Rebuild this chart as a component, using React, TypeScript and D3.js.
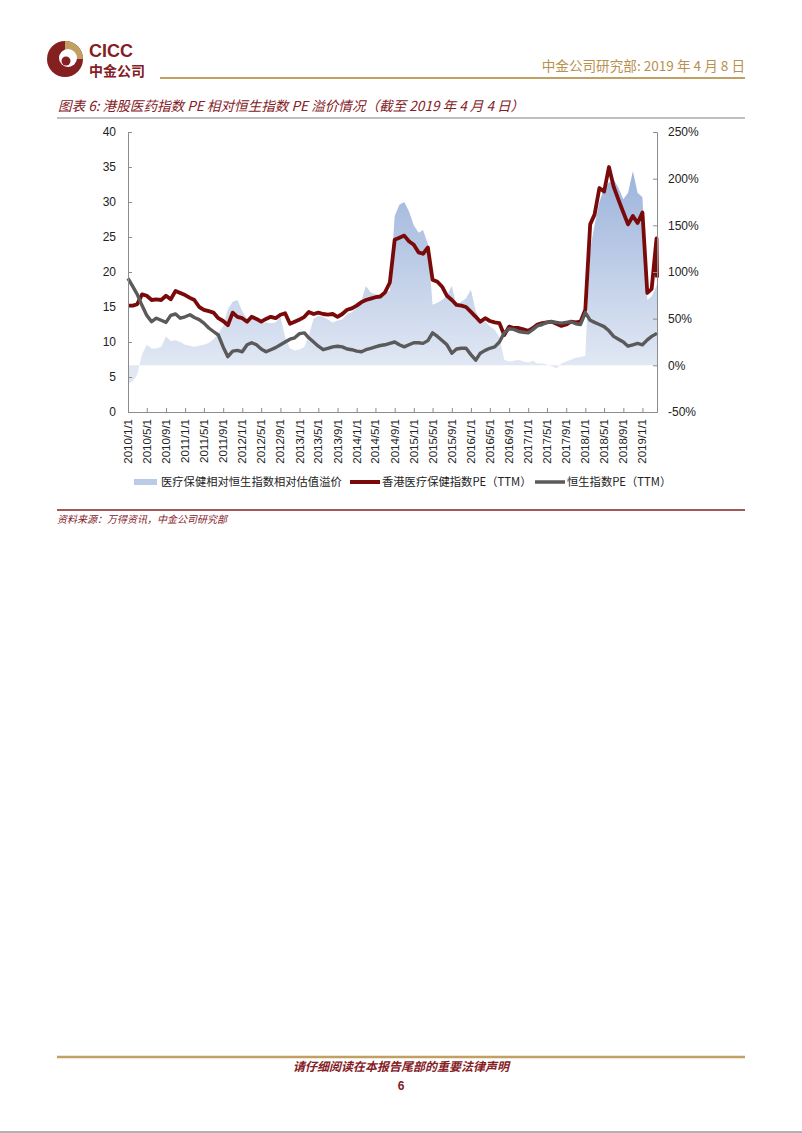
import { useEffect, useRef } from "react";
import * as d3 from "d3";

// monthly readings, 2010/1 .. 2019/4, plus the last day 2019/4/4
const HK_HEALTH_PE = [
  15.2, 15.2, 15.4, 16.8, 16.6, 16.0, 16.1, 16.0, 16.6, 16.1, 17.3, 17.0,
  16.7, 16.3, 16.0, 15.0, 14.6, 14.4, 14.2, 13.4, 13.0, 12.4, 14.2, 13.6,
  13.4, 12.9, 13.6, 13.3, 12.9, 13.3, 13.6, 13.4, 13.9, 14.1, 12.6, 12.9,
  13.2, 13.6, 14.3, 14.0, 14.2, 14.0, 13.9, 14.0, 13.6, 14.0, 14.6, 14.8,
  15.2, 15.7, 16.0, 16.2, 16.4, 16.5, 17.1, 18.5, 24.6, 24.9, 25.2, 24.4,
  23.9, 22.8, 22.6, 23.5, 18.9, 18.6, 17.9, 16.6, 16.0, 15.3, 15.2, 15.0,
  14.3, 13.6, 12.9, 13.4, 13.0, 12.8, 12.7, 11.0, 12.2, 12.0, 12.0, 11.8,
  11.6, 12.0, 12.5, 12.7, 12.8, 12.9, 12.6, 12.3, 12.5, 12.9, 12.8, 12.9,
  14.6, 26.8, 28.2, 32.0, 31.5, 35.0, 32.2, 30.3, 28.5, 26.8, 28.0, 27.0,
  28.5, 17.0, 17.6, 24.8,
  19.2,
];

const HSI_PE = [
  19.1, 17.9, 16.8, 15.2, 13.8, 12.9, 13.4, 13.1, 12.8, 13.8, 14.0, 13.4,
  13.6, 13.9, 13.5, 13.2, 12.7, 12.0, 11.5, 11.0, 9.3, 7.9, 8.7, 8.8,
  8.6, 9.6, 9.9, 9.6, 9.0, 8.6, 8.9, 9.2, 9.6, 10.0, 10.4, 10.6,
  11.2, 11.3, 10.6, 10.0, 9.4, 8.9, 9.1, 9.3, 9.4, 9.3, 9.0, 8.9,
  8.7, 8.6, 8.9, 9.1, 9.3, 9.5, 9.6, 9.8, 10.0, 9.6, 9.3, 9.6,
  9.9, 9.9, 9.8, 10.2, 11.3, 10.8, 10.2, 9.6, 8.4, 9.0, 9.1, 9.1,
  8.2, 7.4, 8.4, 8.8, 9.1, 9.3, 10.0, 11.3, 11.9, 11.8, 11.5, 11.4,
  11.3, 11.8, 12.3, 12.5, 12.8, 12.9, 12.8, 12.7, 12.8, 12.9, 12.6, 12.5,
  14.2, 13.1, 12.8, 12.5, 12.2, 11.6, 10.8, 10.4, 10.0, 9.4, 9.6, 9.8,
  9.6, 10.3, 10.8, 11.2,
  11.3,
];

// premium, %
const PREMIUM = [
  -20, -17, -10, 12, 22, 18, 18, 20, 31, 26, 27, 25,
  22, 21, 20, 21, 22, 24, 28, 34, 42, 60, 68, 70,
  58, 50, 53, 50, 46, 46, 45, 46, 52, 30, 18, 16,
  17, 20, 32, 50, 53, 52, 49, 46, 48, 49, 55, 57,
  62, 70, 85, 78, 76, 75, 78, 80, 160, 172, 175, 165,
  150, 142, 145, 130, 65, 67, 70, 75, 85, 64, 68, 72,
  81, 58, 49, 47, 42, 38, 30, 6, 4, 5, 6, 4,
  3, 5, 2, 2, 1, -1, -3, 2, 4, 6, 8, 9,
  10, 124, 150, 175, 190, 196, 199, 190, 178, 185, 208, 185,
  180, 70, 74, 85,
  88,
];

const X_TICKS = [
  "2010/1/1", "2010/5/1", "2010/9/1", "2011/1/1", "2011/5/1", "2011/9/1",
  "2012/1/1", "2012/5/1", "2012/9/1", "2013/1/1", "2013/5/1", "2013/9/1",
  "2014/1/1", "2014/5/1", "2014/9/1", "2015/1/1", "2015/5/1", "2015/9/1",
  "2016/1/1", "2016/5/1", "2016/9/1", "2017/1/1", "2017/5/1", "2017/9/1",
  "2018/1/1", "2018/5/1", "2018/9/1", "2019/1/1",
];
const LEFT_TICKS = [0, 5, 10, 15, 20, 25, 30, 35, 40];
const RIGHT_TICKS = [-50, 0, 50, 100, 150, 200, 250];

const LEGEND = ["医疗保健相对恒生指数相对估值溢价", "香港医疗保健指数PE（TTM）", "恒生指数PE（TTM）"];

const RED = "#7a0a0a";
const GRAY = "#5a5a5a";
const GOLD = "#c2a064";
const DARKRED = "#84201f";
const AXIS = "#8c8c8c";
const CJK = "'Noto Sans CJK SC', sans-serif";
const LATIN = "'Liberation Sans', Arial, sans-serif";

export default function App() {
  const gRef = useRef<SVGGElement>(null);

  useEffect(() => {
    if (!gRef.current) return;
    const g = d3.select(gRef.current);
    g.selectAll("*").remove();

    const parse = d3.timeParse("%Y/%m/%d");
    const dates = [
      ...d3.timeMonth.range(new Date(2010, 0, 1), new Date(2019, 3, 2)),
      new Date(2019, 3, 4),
    ];

    const x = d3.scaleTime().domain([new Date(2010, 0, 1), new Date(2019, 3, 4)]).range([128, 657]);
    const yL = d3.scaleLinear().domain([0, 40]).range([412, 132]);
    const yR = d3.scaleLinear().domain([-50, 250]).range([412, 132]);

    // area gradient
    const defs = g.append("defs");
    const grad = defs.append("linearGradient")
      .attr("id", "premGrad").attr("gradientUnits", "userSpaceOnUse")
      .attr("x1", 0).attr("x2", 0).attr("y1", yR(210)).attr("y2", yR(0));
    grad.append("stop").attr("offset", "0%").attr("stop-color", "#9cb3db");
    grad.append("stop").attr("offset", "100%").attr("stop-color", "#e1e8f4");

    const area = d3.area<number>()
      .x((_, i) => x(dates[i]))
      .y0(yR(0))
      .y1((d) => yR(d));
    g.append("path").attr("d", area(PREMIUM) ?? "").attr("fill", "url(#premGrad)");

    const line = (yScale: d3.ScaleLinear<number, number>) =>
      d3.line<number>().x((_, i) => x(dates[i])).y((d) => yScale(d)).curve(d3.curveLinear);

    g.append("path").attr("d", line(yL)(HK_HEALTH_PE) ?? "")
      .attr("fill", "none").attr("stroke", RED).attr("stroke-width", 3.8).attr("stroke-linejoin", "round");
    g.append("path").attr("d", line(yL)(HSI_PE) ?? "")
      .attr("fill", "none").attr("stroke", GRAY).attr("stroke-width", 3.4).attr("stroke-linejoin", "round");

    // left axis
    const axL = g.append("g").attr("transform", "translate(128,0)")
      .call(d3.axisRight(yL).tickValues(LEFT_TICKS).tickSize(4).tickFormat(() => ""));
    axL.selectAll("line, path").attr("stroke", AXIS);
    g.append("g").selectAll("text").data(LEFT_TICKS).enter().append("text")
      .attr("x", 116).attr("y", (d) => yL(d)).attr("dy", "0.36em")
      .attr("text-anchor", "end").attr("font-size", 12).attr("font-family", LATIN).attr("fill", "#222")
      .text((d) => d);

    // right axis
    const axR = g.append("g").attr("transform", "translate(657,0)")
      .call(d3.axisLeft(yR).tickValues(RIGHT_TICKS).tickSize(4).tickFormat(() => ""));
    axR.selectAll("line, path").attr("stroke", AXIS);
    g.append("g").selectAll("text").data(RIGHT_TICKS).enter().append("text")
      .attr("x", 668).attr("y", (d) => yR(d)).attr("dy", "0.36em")
      .attr("font-size", 12).attr("font-family", LATIN).attr("fill", "#222")
      .text((d) => `${d}%`);

    // bottom axis
    const tickDates = X_TICKS.map((s) => parse(s) as Date);
    const axB = g.append("g").attr("transform", "translate(0,412)")
      .call(d3.axisTop(x).tickValues(tickDates).tickSize(4).tickFormat(() => ""));
    axB.selectAll("line, path").attr("stroke", AXIS);
    g.append("g").selectAll("text").data(X_TICKS).enter().append("text")
      .attr("transform", (s) => `translate(${x(parse(s) as Date) + 4},419) rotate(-90)`)
      .attr("text-anchor", "end").attr("font-size", 11.5).attr("font-family", LATIN).attr("fill", "#222")
      .text((s) => s);
  }, []);

  return (
    <svg
      width={802}
      height={1133}
      style={{ position: "absolute", left: 0, top: 0, background: "#fff" }}
    >
      <rect x={0} y={0} width={802} height={1133} fill="#fff" />

      {/* header */}
      <g>
        <circle cx={65} cy={59} r={18} fill={DARKRED} />
        <path d="M65,41 A18,18 0 0 1 83,59 L65,59 Z" fill={GOLD} />
        <circle cx={68} cy={58} r={9} fill="#fff" />
        <circle cx={66} cy={61} r={4.5} fill={DARKRED} />
        <text x={89} y={57} fontFamily={LATIN} fontWeight="bold" fontSize={18} fill={DARKRED}>CICC</text>
        <text x={89} y={76} fontFamily={CJK} fontWeight="bold" fontSize={14} fill={DARKRED}>中金公司</text>
        <text x={745} y={71} textAnchor="end" fontFamily={CJK} fontSize={13.6} fill="#b8914f">
          中金公司研究部: 2019 年 4 月 8 日
        </text>
        <line x1={160} x2={745} y1={78} y2={78} stroke={GOLD} strokeWidth={2.2} />
      </g>

      {/* title */}
      <text x={58} y={111} fontFamily={CJK} fontStyle="italic" fontSize={13.6} fill={DARKRED}>
        图表 6: 港股医药指数 PE 相对恒生指数 PE 溢价情况（截至 2019 年 4 月 4 日）
      </text>
      <line x1={57} x2={745} y1={118} y2={118} stroke="#808080" strokeWidth={1} />

      <g ref={gRef} />

      {/* legend */}
      <g fontFamily={CJK} fontSize={11.3} fill="#222">
        <rect x={134} y={479} width={23} height={6} fill="#b9cbe9" />
        <text x={161} y={486}>{LEGEND[0]}</text>
        <line x1={350} x2={380} y1={482} y2={482} stroke={RED} strokeWidth={4} />
        <text x={382} y={486}>{LEGEND[1]}</text>
        <line x1={535} x2={565} y1={482} y2={482} stroke={GRAY} strokeWidth={3.5} />
        <text x={567} y={486}>{LEGEND[2]}</text>
      </g>

      {/* source */}
      <line x1={57} x2={745} y1={510} y2={510} stroke={DARKRED} strokeWidth={1.3} />
      <text x={57} y={523} fontFamily={CJK} fontStyle="italic" fontSize={10} fill={DARKRED}>
        资料来源：万得资讯，中金公司研究部
      </text>

      {/* footer */}
      <line x1={57} x2={745} y1={1057} y2={1057} stroke={GOLD} strokeWidth={2.5} />
      <text x={401} y={1071} textAnchor="middle" fontFamily={CJK} fontStyle="italic" fontWeight="bold" fontSize={12} fill={DARKRED}>
        请仔细阅读在本报告尾部的重要法律声明
      </text>
      <text x={401} y={1090} textAnchor="middle" fontFamily={LATIN} fontWeight="bold" fontSize={12} fill={DARKRED}>
        6
      </text>
      <line x1={0} x2={802} y1={1132} y2={1132} stroke="#9a9a9a" strokeWidth={1.5} />
    </svg>
  );
}
